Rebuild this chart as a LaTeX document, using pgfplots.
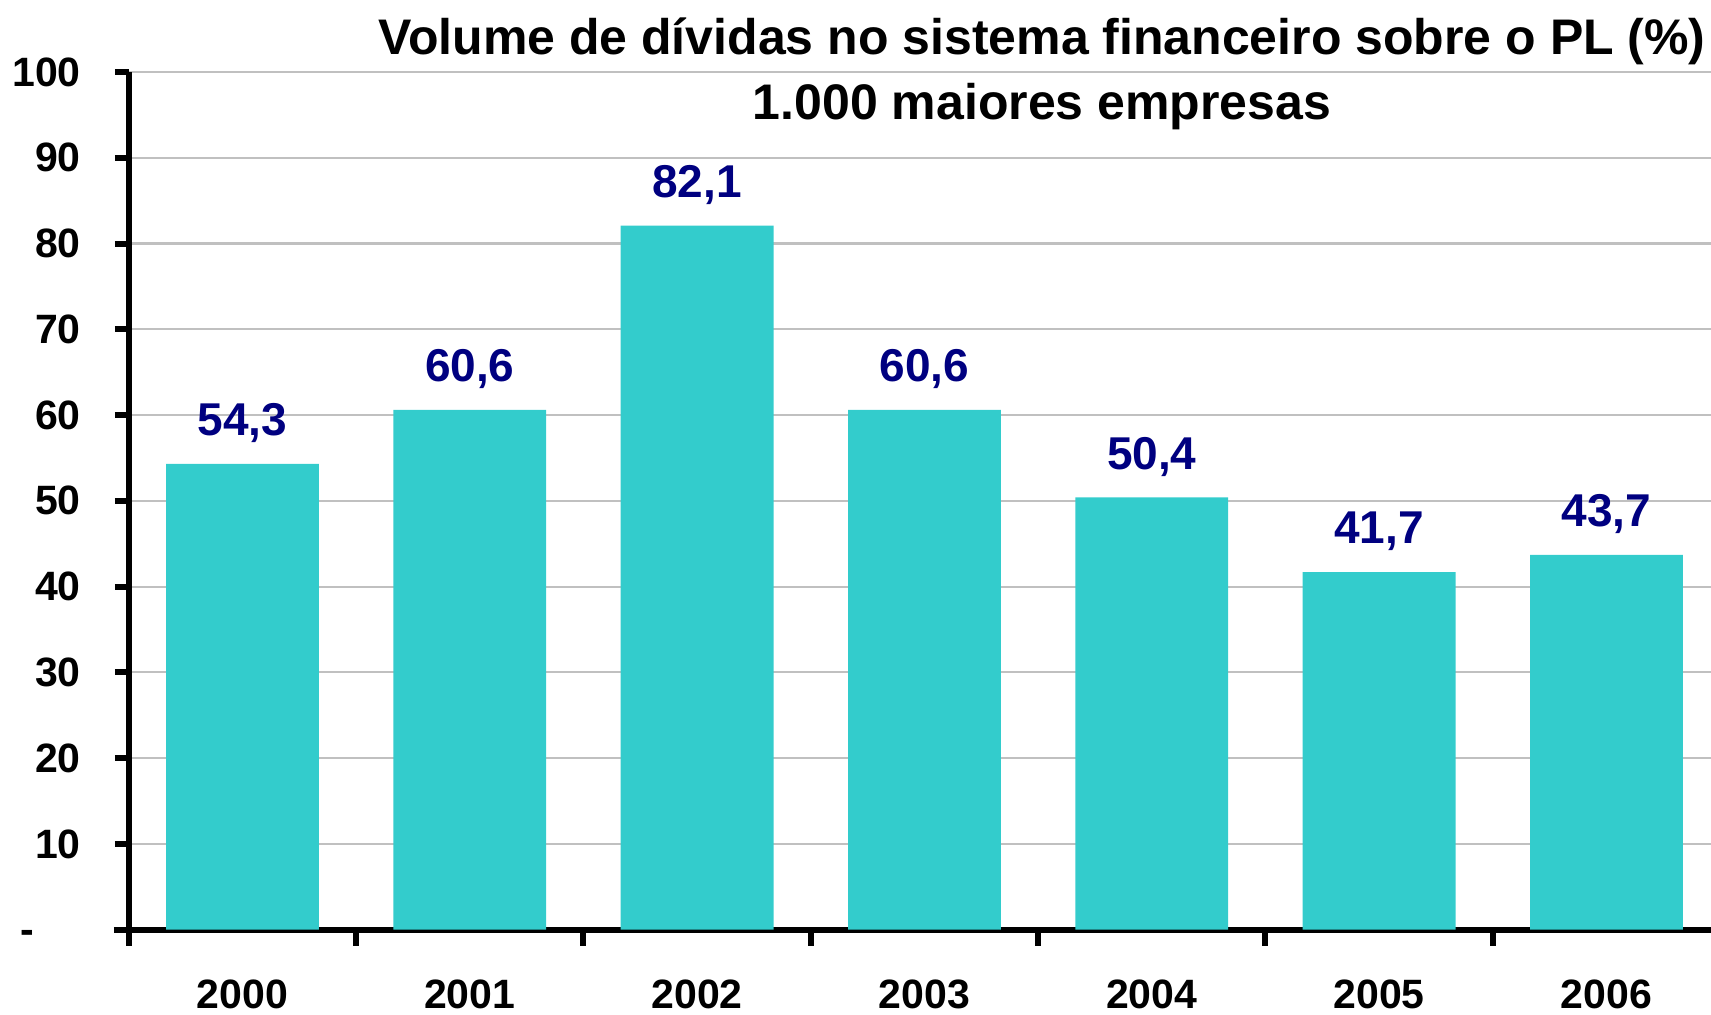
\documentclass[border=0pt]{standalone}
\usepackage{fontspec}
\setmainfont{Liberation Sans}
\usepackage{pgfplots}
\pgfplotsset{compat=1.18}
\definecolor{barc}{HTML}{33CCCC}
\definecolor{lab}{HTML}{000080}
\definecolor{gridc}{HTML}{C0C0C0}
\begin{document}
\begin{tikzpicture}
\useasboundingbox (0,0) rectangle (855.5pt,507pt);
\begin{axis}[
  at={(64.4pt,42.15pt)}, anchor=south west,
  scale only axis, width=791.1pt, height=428.85pt,
  xmin=-0.5, xmax=6.46, ymin=0, ymax=100,
  ybar, bar width=0.672,
  axis x line*=bottom, axis y line*=left,
  axis line style={line width=3pt},
  x axis line style={shorten <=-7.5pt},
  tick align=outside,
  xtick={0,...,6},
  xticklabels={2000,2001,2002,2003,2004,2005,2006},
  major x tick style={draw=none},
  minor xtick={-0.5,0.5,1.5,2.5,3.5,4.5,5.5,6.5},
  minor x tick style={line width=3pt, black},
  minor tick length=8pt,
  major tick length=7pt,
  major y tick style={line width=3pt, black},
  ytick={0,10,...,100},
  yticklabels={{\makebox[30pt][l]{\smash{\raisebox{-7pt}{-}}}},10,20,30,40,50,60,70,80,90,100},
  ymajorgrids, grid style={gridc, line width=1.1pt},
  tick label style={font=\fontsize{20.5pt}{24pt}\selectfont\bfseries},
  xticklabel style={yshift=-14.5pt},
  yticklabel style={anchor=east, xshift=-13.5pt},
  nodes near coords,
  /pgf/number format/.cd, use comma, fixed, fixed zerofill, precision=1, assume math mode=true,
  /pgfplots/.cd,
  every node near coord/.append style={font=\fontsize{23pt}{27pt}\selectfont\bfseries, color=lab, yshift=7pt},
]
\addplot[fill=barc, draw=none] coordinates {(0,54.3) (1,60.6) (2,82.1) (3,60.6) (4,50.4) (5,41.7) (6,43.7)};
\end{axis}
\node[anchor=base, font=\fontsize{25pt}{30pt}\selectfont\bfseries] at (521pt,479.7pt) {Volume de dívidas no sistema financeiro sobre o PL (\%)};
\node[anchor=base, font=\fontsize{25pt}{30pt}\selectfont\bfseries] at (521pt,447pt) {1.000 maiores empresas};
\end{tikzpicture}
\end{document}
